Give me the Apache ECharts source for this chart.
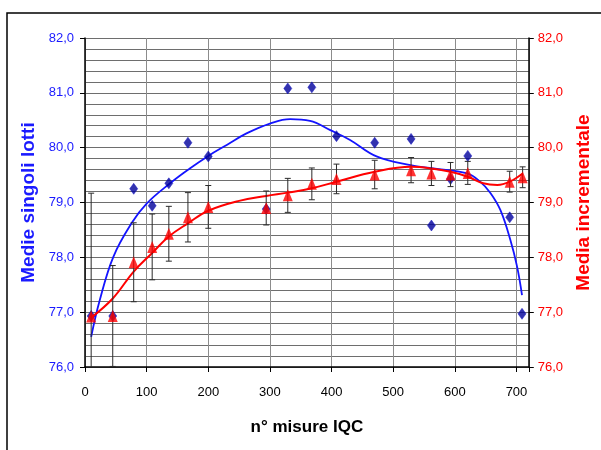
<!DOCTYPE html>
<html>
<head>
<meta charset="utf-8">
<script src="https://cdn.jsdelivr.net/npm/echarts@6/dist/echarts.min.js"></script>
<style>html,body{margin:0;padding:0;background:#fff;}#c{width:601px;height:450px;}</style>
</head>
<body>
<div id="c"></div>
<script>
// Data
var xPoints = [10, 45, 79, 109, 136, 167, 200, 294, 329, 368, 408, 470, 529, 562, 593, 621, 689, 709];
var singleLots = [76.93, 76.93, 79.25, 78.94, 79.35, 80.09, 79.84, 78.88, 81.08, 81.10, 80.21, 80.09, 80.16, 78.58, 79.43, 79.85, 78.73, 76.97];
var xIncr = [10, 45, 79, 109, 136, 167, 200, 294, 329, 368, 408, 470, 529, 562, 593, 621, 689, 710];
var incrMean = [76.92, 76.93, 77.91, 78.19, 78.43, 78.73, 78.92, 78.90, 79.13, 79.34, 79.43, 79.51, 79.59, 79.53, 79.51, 79.54, 79.38, 79.46];
var incrErr = [2.25, 0.92, 0.72, 0.60, 0.50, 0.45, 0.39, 0.31, 0.31, 0.29, 0.27, 0.26, 0.23, 0.22, 0.22, 0.21, 0.19, 0.19];
// Trend lines
var blueTrendX = [10, 24, 46, 76, 100, 138, 170, 200, 230, 262, 300, 333, 365, 398, 430, 473, 528, 565, 620, 641, 658, 674, 690, 701, 709];
var blueTrendY = [76.55, 77.22, 78.01, 78.63, 78.98, 79.35, 79.62, 79.85, 80.05, 80.26, 80.44, 80.52, 80.49, 80.32, 80.14, 79.84, 79.68, 79.62, 79.53, 79.38, 79.17, 78.86, 78.32, 77.83, 77.31];
var redTrendX = [10, 45, 79, 109, 136, 167, 200, 250, 294, 329, 368, 408, 470, 529, 562, 593, 621, 646, 669, 689, 710];
var redTrendY = [76.90, 77.25, 77.74, 78.08, 78.38, 78.62, 78.85, 79.03, 79.12, 79.18, 79.26, 79.38, 79.56, 79.65, 79.62, 79.56, 79.47, 79.35, 79.32, 79.38, 79.53];
var xTicks = [0, 100, 200, 300, 400, 500, 600, 700];
var yTicks = ['76,0', '77,0', '78,0', '79,0', '80,0', '81,0', '82,0'];

function zip(a, b) { return a.map(function (v, i) { return [v, b[i]]; }); }
var fmt = function (v) { return v.toFixed(1).replace('.', ','); };
var FONT = 'Liberation Sans, Arial, sans-serif';

var chart = echarts.init(document.getElementById('c'), null, { renderer: 'canvas' });
chart.setOption({
  animation: false,
  backgroundColor: '#fff',
  graphic: [{
    type: 'rect', shape: { x: 7, y: 13, width: 700, height: 500 },
    style: { fill: 'none', stroke: '#000', lineWidth: 1.5 }, silent: true, z: 100
  }],
  grid: { left: 85, right: 72, top: 38, bottom: 83, containLabel: false },
  xAxis: {
    type: 'value', min: 0, max: 720, interval: 100,
    name: 'n° misure IQC', nameLocation: 'middle', nameGap: 52,
    nameTextStyle: { fontFamily: FONT, fontSize: 17, fontWeight: 'bold', color: '#000' },
    axisLine: { show: true, onZero: false, lineStyle: { color: '#000', width: 1.5 } },
    axisTick: { show: true, length: 5, lineStyle: { color: '#000' } },
    axisLabel: { fontFamily: FONT, fontSize: 13, color: '#000', margin: 19,
      formatter: function (v) { return xTicks.indexOf(v) >= 0 ? String(v) : ''; } },
    splitLine: { show: true, lineStyle: { color: '#8c8c8c', width: 1 } }
  },
  yAxis: [{
    type: 'value', min: 76, max: 82, interval: 1, position: 'left',
    name: 'Medie singoli lotti', nameLocation: 'middle', nameGap: 46, nameRotate: 90,
    nameTextStyle: { fontFamily: FONT, fontSize: 19, fontWeight: 'bold', color: '#1a1aff' },
    axisLine: { show: true, lineStyle: { color: '#000', width: 1.5 } },
    axisTick: { show: true, length: 5, lineStyle: { color: '#000' } },
    axisLabel: { fontFamily: FONT, fontSize: 13, color: '#1a1aff', margin: 11,
      formatter: function (v) { return yTicks[Math.round(v - 76)]; } },
    splitLine: { show: true, lineStyle: { color: '#6e6e6e', width: 1 } },
    minorTick: { show: false, splitNumber: 5 },
    minorSplitLine: { show: true, lineStyle: { color: '#6e6e6e', width: 1 } }
  }, {
    type: 'value', min: 76, max: 82, interval: 1, position: 'right',
    name: 'Media incrementale', nameLocation: 'middle', nameGap: 44, nameRotate: 90,
    nameTextStyle: { fontFamily: FONT, fontSize: 19, fontWeight: 'bold', color: '#ff0000' },
    axisLine: { show: true, lineStyle: { color: '#000', width: 1.5 } },
    axisTick: { show: true, length: 5, lineStyle: { color: '#000' } },
    axisLabel: { fontFamily: FONT, fontSize: 13, color: '#ff0000', margin: 9, formatter: fmt },
    splitLine: { show: false }
  }],
  series: [{
    name: 'Trend singoli', type: 'line', yAxisIndex: 0, smooth: 0.4,
    data: zip(blueTrendX, blueTrendY), symbol: 'none',
    lineStyle: { color: '#1414ff', width: 1.8 }, z: 3
  }, {
    name: 'Medie singoli lotti', type: 'scatter', yAxisIndex: 0,
    data: zip(xPoints, singleLots), symbol: 'diamond', symbolSize: [8, 11],
    itemStyle: { color: '#00009a', borderColor: '#1010c8', borderWidth: 0.6 }, z: 4
  }, {
    name: 'Trend incrementale', type: 'line', yAxisIndex: 1, smooth: 0.4,
    data: zip(redTrendX, redTrendY), symbol: 'none',
    lineStyle: { color: '#ff0000', width: 2 }, z: 5
  }, {
    name: 'Errori', type: 'custom', yAxisIndex: 1, clip: true,
    data: xIncr.map(function (x, i) { return [x, incrMean[i] - incrErr[i], incrMean[i] + incrErr[i]]; }),
    renderItem: function (params, api) {
      var x = api.value(0);
      var lo = api.coord([x, api.value(1)]);
      var hi = api.coord([x, api.value(2)]);
      var w = 3;
      var st = { stroke: '#2a2a2a', lineWidth: 1 };
      return {
        type: 'group', children: [
          { type: 'line', shape: { x1: lo[0], y1: lo[1], x2: hi[0], y2: hi[1] }, style: st },
          { type: 'line', shape: { x1: lo[0] - w, y1: lo[1], x2: lo[0] + w, y2: lo[1] }, style: st },
          { type: 'line', shape: { x1: hi[0] - w, y1: hi[1], x2: hi[0] + w, y2: hi[1] }, style: st }
        ]
      };
    },
    encode: { x: 0, y: [1, 2] }, z: 6
  }, {
    name: 'Media incrementale', type: 'scatter', yAxisIndex: 1,
    data: zip(xIncr, incrMean), symbol: 'triangle', symbolSize: [10, 12],
    itemStyle: { color: '#ff0000' }, z: 7
  }]
});
</script>
</body>
</html>
